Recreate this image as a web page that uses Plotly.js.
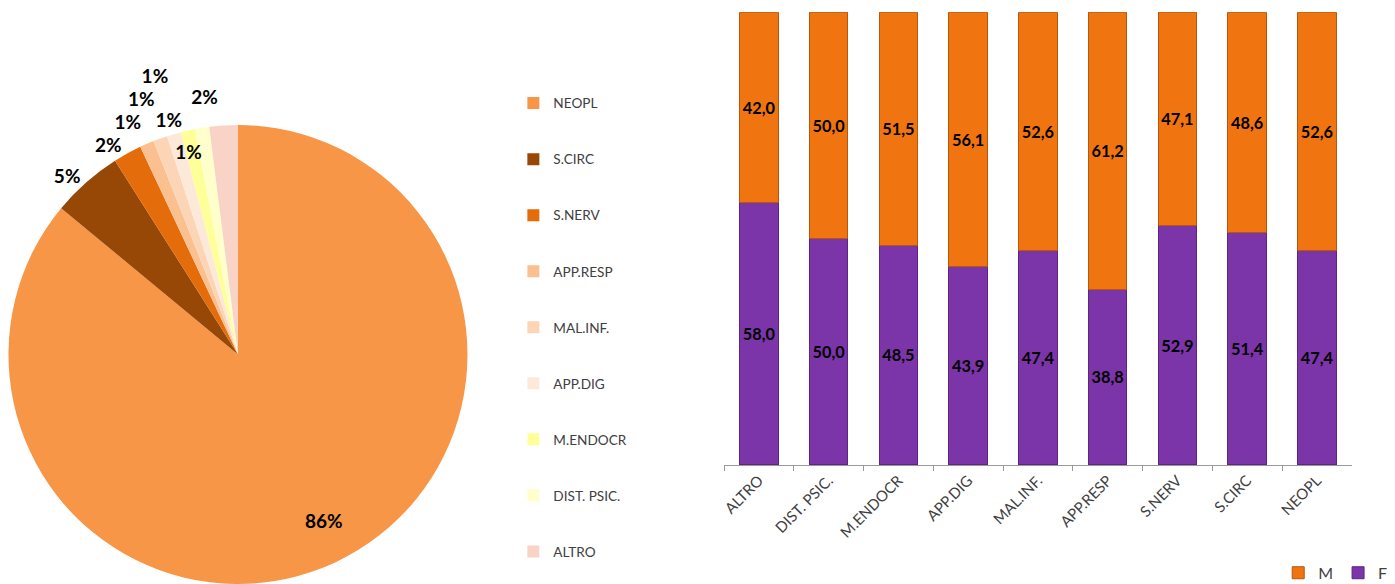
<!DOCTYPE html>
<html><head><meta charset="utf-8">
<script src="https://cdn.plot.ly/plotly-3.0.1.min.js"></script>
<style>body{margin:0;background:#fff}#c{width:1395px;height:584px}
path.textline{display:none}</style>
</head><body><div id="c"></div>
<script>
const pieLabels = ['NEOPL','S.CIRC','S.NERV','APP.RESP','MAL.INF.','APP.DIG','M.ENDOCR','DIST. PSIC.','ALTRO'];
const pieValues = [86, 5, 2, 1, 1, 1, 1, 1, 2];
const pieColors = ['#F79646','#974706','#E46C0A','#FAC090','#FBD5B5','#FDE9D9','#FFFF99','#FFFFCC','#F9D3C5'];
// which label layer draws each slice's percentage (keeps the small labels apart)
const labelGroup = [0, 0, 0, 0, 0, 0, 1, 2, 1];

const barCats = ['ALTRO','DIST. PSIC.','M.ENDOCR','APP.DIG','MAL.INF.','APP.RESP','S.NERV','S.CIRC','NEOPL'];
const valF = [58.0, 50.0, 48.5, 43.9, 47.4, 38.8, 52.9, 51.4, 47.4];
const valM = [42.0, 50.0, 51.5, 56.1, 52.6, 61.2, 47.1, 48.6, 52.6];

const FONT = 'Lato, "DejaVu Sans", sans-serif';
const pctFont = {family:FONT, size:19, color:'#000', weight:'bold'};
const NB = '\u00a0';

function pieTrace(group, domain, visibleSlices) {
  return {
    type:'pie', labels: pieLabels.map(l => ' <br>' + l + '<br> '), values: pieValues,
    sort:false, direction:'clockwise', rotation:0,
    marker:{colors: visibleSlices ? pieColors : pieColors.map(()=> 'rgba(0,0,0,0)'), line:{width:0}},
    texttemplate: pieValues.map((v,i)=> i===0 ? ' <br> <br> <br> <br> <br>' + NB.repeat(16) + '%{percent:.0%}' : '%{percent:.0%}'),
    textposition: pieValues.map((v,i)=> labelGroup[i]!==group ? 'none' : (i===0 ? 'inside' : 'outside')),
    textfont: pctFont, insidetextorientation:'horizontal',
    domain: domain, showlegend: visibleSlices, legend:'legend',
    hoverinfo: visibleSlices ? 'label+percent' : 'skip'
  };
}
const dMain = {x:[0.0057,0.3355], y:[0,0.786]};
const dInner = {x:[0.0308,0.3104], y:[0.0582,0.726]};

const barF = {
  type:'bar', x: barCats, y: valF, name:'F',
  marker:{color:'#7B35A8', line:{color:'#5E2385', width:1}},
  texttemplate:'%{y:.1f}', textposition:'inside', insidetextanchor:'middle', textangle:0,
  textfont:{family:FONT, size:17, color:'#000', weight:'bold'},
  legend:'legend2'
};
const barM = {
  type:'bar', x: barCats, y: valM, name:'M',
  marker:{color:'#F07510', line:{color:'#B8570A', width:1}},
  texttemplate:'%{y:.1f}', textposition:'inside', insidetextanchor:'middle', textangle:0,
  textfont:{family:FONT, size:17, color:'#000', weight:'bold'},
  legend:'legend2'
};

const layout = {
  width:1395, height:584, margin:{l:0,r:0,t:0,b:0, autoexpand:false},
  paper_bgcolor:'#fff', plot_bgcolor:'#fff',
  separators:',.',
  barmode:'stack', bargap:0.45,
  font:{family:FONT, color:'#404040'},
  xaxis:{domain:[0.519,0.969], anchor:'y', type:'category', tickangle:-45,
    showline:true, linecolor:'#999', linewidth:1, ticks:'outside', tickson:'boundaries',
    tickcolor:'#999', ticklen:5, showgrid:false,
    tickfont:{family:FONT, size:15, color:'#404040'}},
  yaxis:{domain:[0.2038,0.979], anchor:'x', range:[0,100], visible:false, showgrid:false},
  legend:{x:0.368, y:0.88, xanchor:'left', yanchor:'top', orientation:'v',
    font:{family:FONT, size:13.6, color:'#404040'}, bgcolor:'rgba(0,0,0,0)'},
  legend2:{x:0.998, y:-0.01, xanchor:'right', yanchor:'bottom', orientation:'h', traceorder:'reversed',
    itemwidth:30, font:{family:FONT, size:16, color:'#404040'}, bgcolor:'rgba(0,0,0,0)'},
  showlegend:true
};
Plotly.newPlot('c', [pieTrace(0, dMain, true), pieTrace(1, dMain, false), pieTrace(2, dInner, false), barF, barM],
  layout, {displayModeBar:false, staticPlot:true});
</script></body></html>
